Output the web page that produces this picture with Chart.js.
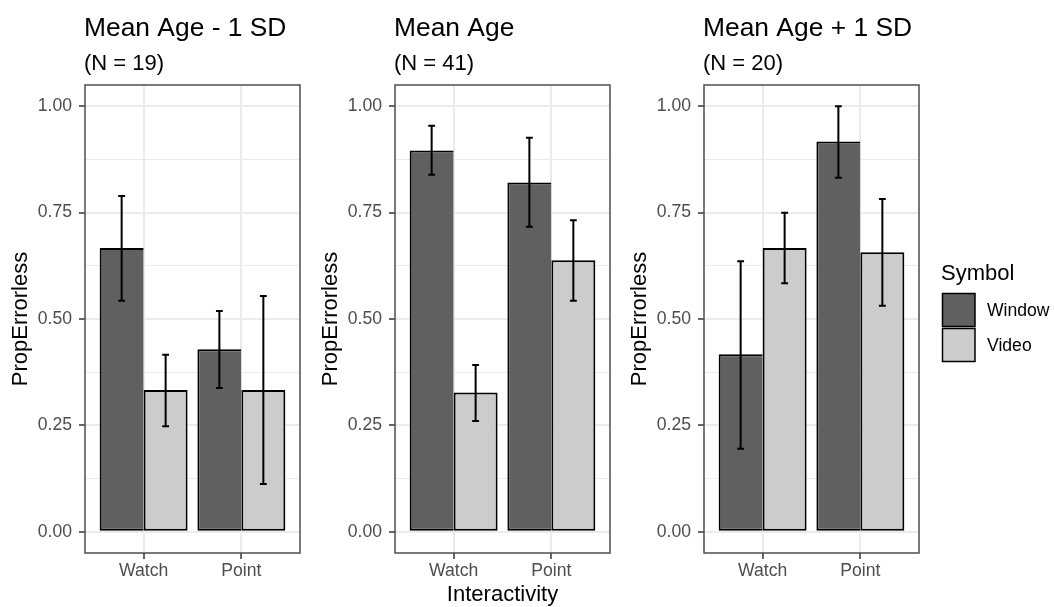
<!DOCTYPE html>
<html><head><meta charset="utf-8">
<script src="https://cdn.jsdelivr.net/npm/chart.js@4.4.1/dist/chart.umd.min.js"></script>
<style>
html,body{margin:0;padding:0;background:#fff;width:1054px;height:607px;overflow:hidden;}
canvas{position:absolute;top:0;}
</style></head><body>
<canvas id="c1" width="310" height="607" style="left:0px"></canvas>
<canvas id="c2" width="310" height="607" style="left:310px"></canvas>
<canvas id="c3" width="435" height="607" style="left:619px"></canvas>
<script>
// ---- data ----
const categories = ['Watch', 'Point'];
const categoryPositions = [1, 2];
const seriesNames = ['Window', 'Video'];
const legendTitle = 'Symbol';
const panelTitles = ['Mean Age - 1 SD', 'Mean Age', 'Mean Age + 1 SD'];
const panelSubtitles = ['(N = 19)', '(N = 41)', '(N = 20)'];
const yTitle = 'PropErrorless';
const xTitle = 'Interactivity';
const yTickValues = [0, 0.25, 0.5, 0.75, 1];
const yTickLabels = ['0.00', '0.25', '0.50', '0.75', '1.00'];
const yMinorValues = [0.125, 0.375, 0.625, 0.875];

// Panel 1: Mean Age - 1 SD
const lowWindow   = [0.667, 0.429];
const lowWindowLo = [0.543, 0.338];
const lowWindowHi = [0.789, 0.519];
const lowVideo    = [0.333, 0.333];
const lowVideoLo  = [0.248, 0.112];
const lowVideoHi  = [0.416, 0.554];
// Panel 2: Mean Age
const midWindow   = [0.896, 0.821];
const midWindowLo = [0.839, 0.717];
const midWindowHi = [0.954, 0.926];
const midVideo    = [0.327, 0.638];
const midVideoLo  = [0.260, 0.543];
const midVideoHi  = [0.392, 0.732];
// Panel 3: Mean Age + 1 SD
const highWindow   = [0.417, 0.917];
const highWindowLo = [0.195, 0.832];
const highWindowHi = [0.636, 1.000];
const highVideo    = [0.667, 0.657];
const highVideoLo  = [0.584, 0.531];
const highVideoHi  = [0.750, 0.782];

// ---- styling ----
const FONT = '"Liberation Sans", Arial, Helvetica, sans-serif';
const seriesColors = ['#606060', '#cccccc'];
const gridColor = '#ebebeb';
const darkLine = '#333333';

function toPoints(vals) {
  return vals.map((v, i) => ({ x: categoryPositions[i], y: v }));
}

function makePanel(canvasId, idx, windowVals, windowLo, windowHi, videoVals, videoLo, videoHi, showXTitle, showLegend, padRight) {
  const deco = {
    id: 'deco' + idx,
    afterDatasetsDraw(chart) {
      const ctx = chart.ctx;
      const xs = chart.scales.x, ys = chart.scales.y;
      const capHalf = xs.getPixelForValue(1.035) - xs.getPixelForValue(1);
      ctx.save();
      ctx.strokeStyle = '#000';
      ctx.lineWidth = 2;
      chart.data.datasets.forEach((ds, di) => {
        const meta = chart.getDatasetMeta(di);
        meta.data.forEach((bar, i) => {
          const x = bar.x;
          const yl = ys.getPixelForValue(ds.errLo[i]);
          const yh = ys.getPixelForValue(ds.errHi[i]);
          ctx.beginPath();
          ctx.moveTo(x, yl); ctx.lineTo(x, yh);
          ctx.moveTo(x - capHalf, yl); ctx.lineTo(x + capHalf, yl);
          ctx.moveTo(x - capHalf, yh); ctx.lineTo(x + capHalf, yh);
          ctx.stroke();
        });
      });
      // panel border
      const a = chart.chartArea;
      ctx.strokeStyle = '#4d4d4d';
      ctx.lineWidth = 1.5;
      ctx.strokeRect(a.left, a.top, a.right - a.left, a.bottom - a.top);
      ctx.restore();
    },
    afterDraw(chart) {
      const ctx = chart.ctx;
      const a = chart.chartArea;
      ctx.save();
      ctx.fillStyle = '#000';
      ctx.textAlign = 'left';
      ctx.textBaseline = 'alphabetic';
      ctx.font = '26.4px ' + FONT;
      ctx.fillText(panelTitles[idx], a.left - 1, 36);
      ctx.font = '22px ' + FONT;
      ctx.fillText(panelSubtitles[idx], a.left - 1, 70);
      if (showLegend) {
        const off = 619;
        ctx.font = '22px ' + FONT;
        ctx.fillText(legendTitle, 941 - off, 280);
        ctx.font = '17.6px ' + FONT;
        ctx.textBaseline = 'middle';
        chart.data.datasets.forEach((ds, di) => {
          const bx = 942.5 - off, by = 293.5 + di * 35, bw = 32.5, bh = 33;
          ctx.fillStyle = ds.backgroundColor;
          ctx.fillRect(bx, by, bw, bh);
          ctx.strokeStyle = '#000';
          ctx.lineWidth = 1.5;
          ctx.strokeRect(bx, by, bw, bh);
          ctx.fillStyle = '#000';
          ctx.fillText(ds.label, 987 - off, by + bh / 2 + 1);
        });
      }
      ctx.restore();
    }
  };

  const allYTicks = yTickValues.concat(yMinorValues).sort((p, q) => p - q);
  const isMajor = v => yTickValues.some(t => Math.abs(t - v) < 1e-9);

  return new Chart(document.getElementById(canvasId), {
    type: 'bar',
    data: {
      datasets: [
        { label: seriesNames[0], data: toPoints(windowVals), errLo: windowLo, errHi: windowHi,
          backgroundColor: seriesColors[0], borderColor: '#000',
          borderWidth: { top: 2, left: 2, bottom: 2, right: 0 }, borderSkipped: false },
        { label: seriesNames[1], data: toPoints(videoVals), errLo: videoLo, errHi: videoHi,
          backgroundColor: seriesColors[1], borderColor: '#000',
          borderWidth: { top: 2, left: 2, bottom: 2, right: 2 }, borderSkipped: false }
      ]
    },
    options: {
      responsive: false,
      animation: false,
      events: [],
      categoryPercentage: 0.9,
      barPercentage: 1.0,
      layout: { padding: { top: 85, right: padRight, bottom: 0, left: 0 } },
      plugins: { legend: { display: false }, tooltip: { enabled: false }, title: { display: false } },
      scales: {
        x: {
          type: 'linear',
          min: 0.4, max: 2.6,
          offset: false,
          afterBuildTicks(scale) { scale.ticks = categoryPositions.map(v => ({ value: v })); },
          afterFit(scale) { scale.height = 54; },
          grid: { offset: false, color: gridColor, lineWidth: 2, tickLength: 6, tickColor: darkLine, tickWidth: 1.5 },
          border: { display: false },
          ticks: {
            autoSkip: false, maxRotation: 0, padding: 2,
            color: '#4d4d4d', font: { family: FONT, size: 17.6 },
            callback: (v, i) => categories[i]
          },
          title: { display: showXTitle, text: xTitle, color: '#000',
                   font: { family: FONT, size: 22, lineHeight: 1.1 }, padding: { top: 0, bottom: 0 } }
        },
        y: {
          type: 'linear',
          min: -0.05, max: 1.05,
          afterBuildTicks(scale) { scale.ticks = allYTicks.map(v => ({ value: v })); },
          afterFit(scale) { scale.width = 85; },
          grid: {
            color: gridColor,
            lineWidth: c => (c.tick && isMajor(c.tick.value)) ? 2 : 1,
            tickLength: 6,
            tickColor: c => (c.tick && isMajor(c.tick.value)) ? darkLine : 'rgba(0,0,0,0)',
            tickWidth: 1.5
          },
          border: { display: false },
          ticks: {
            autoSkip: false, padding: 7,
            color: '#4d4d4d', font: { family: FONT, size: 17.6 },
            callback: (v) => { const k = yTickValues.findIndex(t => Math.abs(t - v) < 1e-9); return k >= 0 ? yTickLabels[k] : ''; }
          },
          title: { display: true, text: yTitle, color: '#000',
                   font: { family: FONT, size: 22 }, padding: { top: 8, bottom: 0 } }
        }
      }
    },
    plugins: [deco]
  });
}

makePanel('c1', 0, lowWindow, lowWindowLo, lowWindowHi, lowVideo, lowVideoLo, lowVideoHi, false, false, 10);
makePanel('c2', 1, midWindow, midWindowLo, midWindowHi, midVideo, midVideoLo, midVideoHi, true, false, 10);
makePanel('c3', 2, highWindow, highWindowLo, highWindowHi, highVideo, highVideoLo, highVideoHi, false, true, 135);
</script>
</body></html>
